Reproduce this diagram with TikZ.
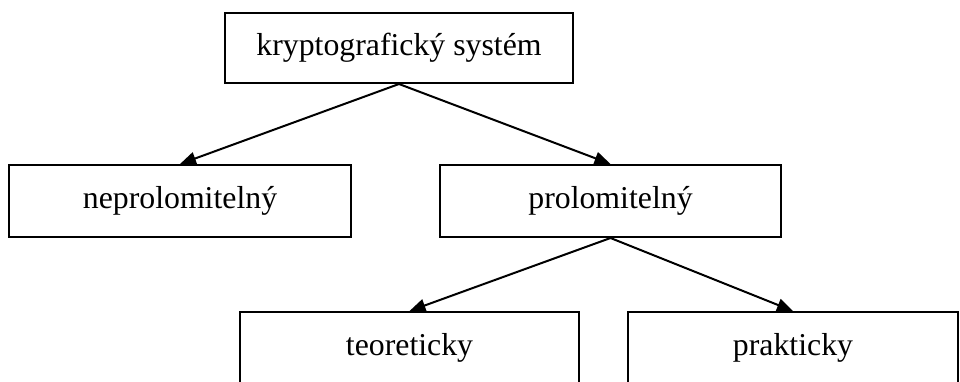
\documentclass[tikz,border=0pt]{standalone}
\usepackage{fontspec}
\setmainfont{Liberation Serif}
\usetikzlibrary{arrows.meta}
\begin{document}
\begin{tikzpicture}[x=1pt,y=-1pt,
  box/.style={draw,line width=2pt,rectangle,minimum height=72pt,inner sep=0pt,
    font=\fontsize{31.8}{36}\selectfont},
  link/.style={line width=2pt,-{Triangle[length=16pt,width=13pt]}}]
  \useasboundingbox (0,0) rectangle (960,381);
  \clip (0,0) rectangle (960,381);
  \node[box,minimum width=348pt,minimum height=70pt] (sys) at (399,48) {kryptografický systém};
  \node[box,minimum width=342pt] (nepr) at (180,201) {neprolomitelný};
  \node[box,minimum width=341pt] (prol) at (610.5,201) {prolomitelný};
  \node[box,minimum width=339pt] (teor) at (409.5,348) {teoreticky};
  \node[box,minimum width=330pt] (prak) at (793,348) {prakticky};
  \draw[link] (sys.south) -- (nepr.north);
  \draw[link] (sys.south) -- (prol.north);
  \draw[link] (prol.south) -- (teor.north);
  \draw[link] (prol.south) -- (prak.north);
\end{tikzpicture}
\end{document}
